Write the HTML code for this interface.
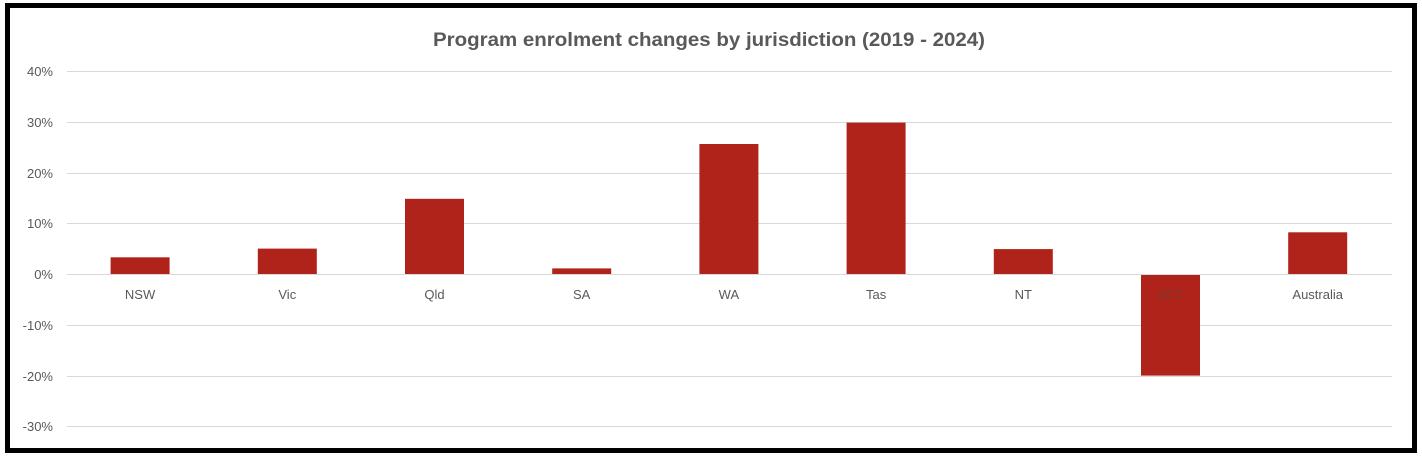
<!DOCTYPE html>
<html><head><meta charset="utf-8"><style>
html,body{margin:0;padding:0;background:#fff;}
svg{display:block;}
</style></head><body>
<svg width="1422" height="458" xmlns="http://www.w3.org/2000/svg" font-family="'Liberation Sans', sans-serif">
<rect x="0" y="0" width="1422" height="458" fill="#fff"/>
<rect x="7.5" y="5.5" width="1407" height="445" fill="#fff" stroke="#000" stroke-width="5"/>
<text x="709" y="46" text-anchor="middle" font-size="19" font-weight="bold" fill="#595959" textLength="552" lengthAdjust="spacingAndGlyphs">Program enrolment changes by jurisdiction (2019 - 2024)</text>
<g stroke="#d9d9d9" stroke-width="1">
<line x1="67" x2="1392" y1="71.5" y2="71.5"/>
<line x1="67" x2="1392" y1="122.5" y2="122.5"/>
<line x1="67" x2="1392" y1="173.5" y2="173.5"/>
<line x1="67" x2="1392" y1="223.5" y2="223.5"/>
<line x1="67" x2="1392" y1="274.5" y2="274.5"/>
<line x1="67" x2="1392" y1="325.5" y2="325.5"/>
<line x1="67" x2="1392" y1="376.5" y2="376.5"/>
<line x1="67" x2="1392" y1="426.5" y2="426.5"/>
</g>
<g font-size="13" fill="#595959" text-anchor="end">
<text x="53" y="76">40%</text>
<text x="53" y="127">30%</text>
<text x="53" y="178">20%</text>
<text x="53" y="228">10%</text>
<text x="53" y="279">0%</text>
<text x="53" y="330">-10%</text>
<text x="53" y="381">-20%</text>
<text x="53" y="431">-30%</text>
</g>
<g fill="#b0231a">
<rect x="110.6" y="257.3" width="59" height="16.7"/>
<rect x="257.8" y="248.6" width="59" height="25.4"/>
<rect x="405" y="198.8" width="59" height="75.2"/>
<rect x="552.2" y="268.4" width="59" height="5.6"/>
<rect x="699.4" y="144" width="59" height="130"/>
<rect x="846.6" y="122.6" width="59" height="151.4"/>
<rect x="993.8" y="249.1" width="59" height="24.9"/>
<rect x="1141" y="275" width="59" height="100.6"/>
<rect x="1288.2" y="232.3" width="59" height="41.7"/>
</g>
<g font-size="13" fill="#595959" text-anchor="middle">
<text x="140.1" y="299">NSW</text>
<text x="287.3" y="299">Vic</text>
<text x="434.5" y="299">Qld</text>
<text x="581.7" y="299">SA</text>
<text x="728.9" y="299">WA</text>
<text x="876.1" y="299">Tas</text>
<text x="1023.3" y="299">NT</text>
<text x="1170.5" y="299" fill="#7a3a30">ACT</text>
<text x="1317.7" y="299">Australia</text>
</g>
</svg>
</body></html>
